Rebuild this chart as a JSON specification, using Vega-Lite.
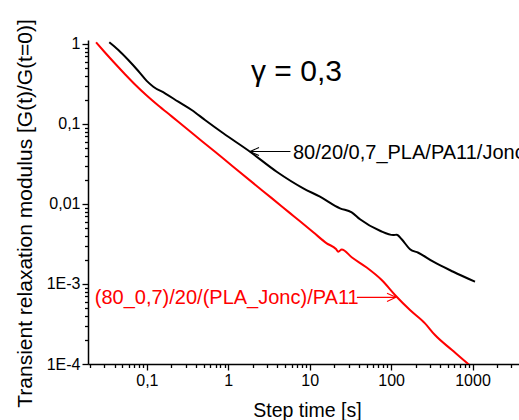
{
  "$schema": "https://vega.github.io/schema/vega-lite/v6.json",
  "width": 431,
  "height": 324,
  "autosize": {"type": "none"},
  "padding": {"left": 88, "top": 40, "right": 0, "bottom": 56},
  "background": "white",
  "config": {
    "view": {"stroke": null},
    "font": "Liberation Sans",
    "axis": {
      "grid": false,
      "domainColor": "black",
      "domainWidth": 1.5,
      "tickColor": "black",
      "tickWidth": 1.3,
      "labelColor": "black",
      "labelFont": "Liberation Sans",
      "labelFontSize": 16,
      "labelOverlap": false,
      "labelFlush": false,
      "labelBound": false,
      "titleColor": "black",
      "titleFont": "Liberation Sans",
      "titleFontWeight": "normal"
    }
  },
  "datasets": {
    "curves": [
      {"series": "80/20/0,7_PLA/PA11/Jonc", "t": 0.0345, "G": 1.048},
      {"series": "80/20/0,7_PLA/PA11/Jonc", "t": 0.0446, "G": 0.840},
      {"series": "80/20/0,7_PLA/PA11/Jonc", "t": 0.0591, "G": 0.630},
      {"series": "80/20/0,7_PLA/PA11/Jonc", "t": 0.0784, "G": 0.459},
      {"series": "80/20/0,7_PLA/PA11/Jonc", "t": 0.0994, "G": 0.345},
      {"series": "80/20/0,7_PLA/PA11/Jonc", "t": 0.1199, "G": 0.2921},
      {"series": "80/20/0,7_PLA/PA11/Jonc", "t": 0.1669, "G": 0.2415},
      {"series": "80/20/0,7_PLA/PA11/Jonc", "t": 0.243, "G": 0.1897},
      {"series": "80/20/0,7_PLA/PA11/Jonc", "t": 0.3551, "G": 0.1493},
      {"series": "80/20/0,7_PLA/PA11/Jonc", "t": 0.5173, "G": 0.112},
      {"series": "80/20/0,7_PLA/PA11/Jonc", "t": 0.868, "G": 0.0764},
      {"series": "80/20/0,7_PLA/PA11/Jonc", "t": 1.848, "G": 0.045},
      {"series": "80/20/0,7_PLA/PA11/Jonc", "t": 3.932, "G": 0.0253},
      {"series": "80/20/0,7_PLA/PA11/Jonc", "t": 8.342, "G": 0.01569},
      {"series": "80/20/0,7_PLA/PA11/Jonc", "t": 13.38, "G": 0.01232},
      {"series": "80/20/0,7_PLA/PA11/Jonc", "t": 23.56, "G": 0.00882},
      {"series": "80/20/0,7_PLA/PA11/Jonc", "t": 32.81, "G": 0.00786},
      {"series": "80/20/0,7_PLA/PA11/Jonc", "t": 41.5, "G": 0.00643},
      {"series": "80/20/0,7_PLA/PA11/Jonc", "t": 73.06, "G": 0.00463},
      {"series": "80/20/0,7_PLA/PA11/Jonc", "t": 106.4, "G": 0.00409},
      {"series": "80/20/0,7_PLA/PA11/Jonc", "t": 117.2, "G": 0.00413},
      {"series": "80/20/0,7_PLA/PA11/Jonc", "t": 134.9, "G": 0.00362},
      {"series": "80/20/0,7_PLA/PA11/Jonc", "t": 170.7, "G": 0.00272},
      {"series": "80/20/0,7_PLA/PA11/Jonc", "t": 215.9, "G": 0.002457},
      {"series": "80/20/0,7_PLA/PA11/Jonc", "t": 329.9, "G": 0.001897},
      {"series": "80/20/0,7_PLA/PA11/Jonc", "t": 580.9, "G": 0.001422},
      {"series": "80/20/0,7_PLA/PA11/Jonc", "t": 1073, "G": 0.001067},
      {"series": "(80_0,7)/20/(PLA_Jonc)/PA11", "t": 0.0237, "G": 1.048},
      {"series": "(80_0,7)/20/(PLA_Jonc)/PA11", "t": 0.03056, "G": 0.782},
      {"series": "(80_0,7)/20/(PLA_Jonc)/PA11", "t": 0.04056, "G": 0.5694},
      {"series": "(80_0,7)/20/(PLA_Jonc)/PA11", "t": 0.05383, "G": 0.4186},
      {"series": "(80_0,7)/20/(PLA_Jonc)/PA11", "t": 0.07142, "G": 0.3112},
      {"series": "(80_0,7)/20/(PLA_Jonc)/PA11", "t": 0.0994, "G": 0.2267},
      {"series": "(80_0,7)/20/(PLA_Jonc)/PA11", "t": 0.138, "G": 0.170},
      {"series": "(80_0,7)/20/(PLA_Jonc)/PA11", "t": 0.2016, "G": 0.1243},
      {"series": "(80_0,7)/20/(PLA_Jonc)/PA11", "t": 0.2938, "G": 0.0908},
      {"series": "(80_0,7)/20/(PLA_Jonc)/PA11", "t": 0.4712, "G": 0.0614},
      {"series": "(80_0,7)/20/(PLA_Jonc)/PA11", "t": 0.868, "G": 0.0369},
      {"series": "(80_0,7)/20/(PLA_Jonc)/PA11", "t": 2.233, "G": 0.0168},
      {"series": "(80_0,7)/20/(PLA_Jonc)/PA11", "t": 3.414, "G": 0.01183},
      {"series": "(80_0,7)/20/(PLA_Jonc)/PA11", "t": 5.728, "G": 0.00768},
      {"series": "(80_0,7)/20/(PLA_Jonc)/PA11", "t": 7.6, "G": 0.00607},
      {"series": "(80_0,7)/20/(PLA_Jonc)/PA11", "t": 11.07, "G": 0.00443},
      {"series": "(80_0,7)/20/(PLA_Jonc)/PA11", "t": 16.18, "G": 0.00322},
      {"series": "(80_0,7)/20/(PLA_Jonc)/PA11", "t": 21.04, "G": 0.002735},
      {"series": "(80_0,7)/20/(PLA_Jonc)/PA11", "t": 22.46, "G": 0.00253},
      {"series": "(80_0,7)/20/(PLA_Jonc)/PA11", "t": 24.73, "G": 0.002695},
      {"series": "(80_0,7)/20/(PLA_Jonc)/PA11", "t": 33.09, "G": 0.00214},
      {"series": "(80_0,7)/20/(PLA_Jonc)/PA11", "t": 50.13, "G": 0.001605},
      {"series": "(80_0,7)/20/(PLA_Jonc)/PA11", "t": 76.65, "G": 0.00112},
      {"series": "(80_0,7)/20/(PLA_Jonc)/PA11", "t": 113.9, "G": 0.000713},
      {"series": "(80_0,7)/20/(PLA_Jonc)/PA11", "t": 170.7, "G": 0.000472},
      {"series": "(80_0,7)/20/(PLA_Jonc)/PA11", "t": 260.9, "G": 0.000322},
      {"series": "(80_0,7)/20/(PLA_Jonc)/PA11", "t": 346.2, "G": 0.00023},
      {"series": "(80_0,7)/20/(PLA_Jonc)/PA11", "t": 560, "G": 0.0001494},
      {"series": "(80_0,7)/20/(PLA_Jonc)/PA11", "t": 888, "G": 0.0000998},
      {"series": "(80_0,7)/20/(PLA_Jonc)/PA11", "t": 986, "G": 0.0000916}
    ]
  },
  "layer": [
    {
      "data": {"name": "curves"},
      "mark": {"type": "line", "strokeWidth": 2, "clip": true, "interpolate": "monotone"},
      "encoding": {
        "x": {
          "field": "t",
          "type": "quantitative",
          "scale": {"type": "log", "domain": [0.0189, 3726], "nice": false},
          "axis": {
            "title": "Step time [s]",
            "titleFontSize": 19.5,
            "titleX": 219,
            "titleY": 52,
            "titleAlign": "center",
            "titleBaseline": "alphabetic",
            "values": [0.02,0.03,0.04,0.05,0.06,0.07,0.08,0.09,0.1,0.2,0.3,0.4,0.5,0.6,0.7,0.8,0.9,1,2,3,4,5,6,7,8,9,10,20,30,40,50,60,70,80,90,100,200,300,400,500,600,700,800,900,1000,2000,3000],
            "labelExpr": "abs(log(datum.value)/LN10 - round(log(datum.value)/LN10)) < 1e-6 ? replace(format(datum.value, '~g'), '.', ',') : ''",
            "tickSize": {"condition": {"test": "abs(log(datum.value)/LN10 - round(log(datum.value)/LN10)) < 1e-6", "value": 6}, "value": 3.5},
            "labelPadding": 2
          }
        },
        "y": {
          "field": "G",
          "type": "quantitative",
          "scale": {"type": "log", "domain": [0.0001, 1.12], "nice": false},
          "axis": {
            "title": "Transient relaxation modulus [G(t)/G(t=0)]",
            "titleFontSize": 21,
            "titleAngle": -90,
            "titleX": -57,
            "titleY": 173,
            "titleAlign": "center",
            "titleBaseline": "alphabetic",
            "values": [0.0001,0.0002,0.0003,0.0004,0.0005,0.0006,0.0007,0.0008,0.0009,0.001,0.002,0.003,0.004,0.005,0.006,0.007,0.008,0.009,0.01,0.02,0.03,0.04,0.05,0.06,0.07,0.08,0.09,0.1,0.2,0.3,0.4,0.5,0.6,0.7,0.8,0.9,1],
            "labelExpr": "abs(log(datum.value)/LN10 - round(log(datum.value)/LN10)) < 1e-6 ? (datum.value >= 0.01 ? replace(format(datum.value, '~g'), '.', ',') : (datum.value > 0.0005 ? '1E-3' : '1E-4')) : ''",
            "tickSize": {"condition": {"test": "abs(log(datum.value)/LN10 - round(log(datum.value)/LN10)) < 1e-6", "value": 6}, "value": 3.5},
            "labelPadding": 2
          }
        },
        "color": {
          "field": "series",
          "type": "nominal",
          "scale": {"domain": ["80/20/0,7_PLA/PA11/Jonc", "(80_0,7)/20/(PLA_Jonc)/PA11"], "range": ["#000000", "#ff0000"]},
          "legend": null
        }
      }
    },
    {
      "data": {"values": [{}]},
      "mark": {"type": "text", "text": "γ = 0,3", "fontSize": 30, "align": "center", "baseline": "middle", "color": "black", "font": "Liberation Sans"},
      "encoding": {"x": {"datum": 6.88, "type": "quantitative"}, "y": {"datum": 0.45, "type": "quantitative"}}
    },
    {
      "data": {"values": [{}]},
      "mark": {"type": "text", "text": "80/20/0,7_PLA/PA11/Jonc", "fontSize": 20, "align": "left", "baseline": "middle", "color": "black", "font": "Liberation Sans", "dy": 1},
      "encoding": {"x": {"datum": 6.235, "type": "quantitative"}, "y": {"datum": 0.045, "type": "quantitative"}}
    },
    {
      "data": {"values": [{}]},
      "mark": {"type": "text", "text": "(80_0,7)/20/(PLA_Jonc)/PA11", "fontSize": 20, "align": "left", "baseline": "middle", "color": "#ff0000", "font": "Liberation Sans", "dy": 1},
      "encoding": {"x": {"datum": 0.0229, "type": "quantitative"}, "y": {"datum": 0.00068, "type": "quantitative"}}
    },
    {
      "data": {"values": [{}]},
      "mark": {"type": "rule", "color": "black", "strokeWidth": 1.1},
      "encoding": {"x": {"datum": 1.86, "type": "quantitative"}, "x2": {"datum": 5.8}, "y": {"datum": 0.0452, "type": "quantitative"}}
    },
    {
      "data": {"values": [{}]},
      "mark": {"type": "point", "shape": "M0,0L1,-0.45M0,0L1,0.45", "size": 324, "filled": false, "stroke": "black", "strokeWidth": 1.1, "opacity": 1},
      "encoding": {"x": {"datum": 1.848, "type": "quantitative"}, "y": {"datum": 0.0452, "type": "quantitative"}}
    },
    {
      "data": {"values": [{}]},
      "mark": {"type": "rule", "color": "#ff0000", "strokeWidth": 1.1},
      "encoding": {"x": {"datum": 38.0, "type": "quantitative"}, "x2": {"datum": 114}, "y": {"datum": 0.000681, "type": "quantitative"}}
    },
    {
      "data": {"values": [{}]},
      "mark": {"type": "point", "shape": "M0,0L-1,-0.45M0,0L-1,0.45", "size": 324, "filled": false, "stroke": "#ff0000", "strokeWidth": 1.1, "opacity": 1},
      "encoding": {"x": {"datum": 114.9, "type": "quantitative"}, "y": {"datum": 0.000681, "type": "quantitative"}}
    }
  ]
}
